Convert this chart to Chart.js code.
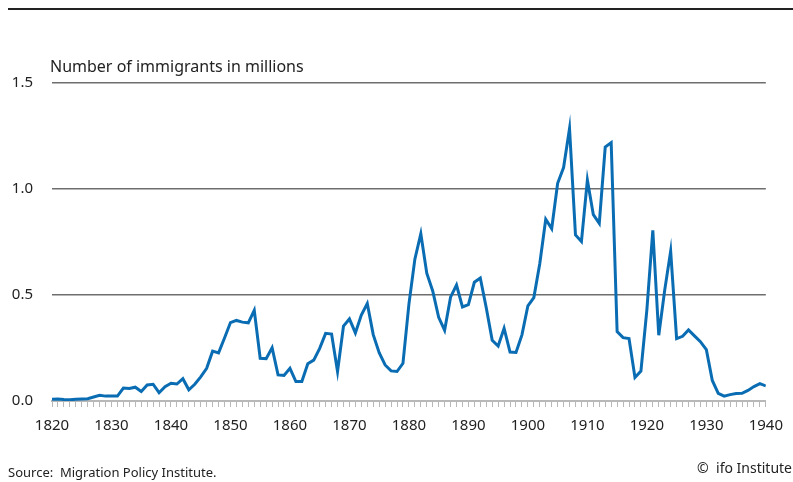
<!DOCTYPE html>
<html>
<head>
<meta charset="utf-8">
<script src="https://cdn.jsdelivr.net/npm/chart.js@4.4.1/dist/chart.umd.min.js"></script>
<style>
  html, body { margin: 0; padding: 0; background: #fff; }
  #wrap { position: relative; width: 793px; height: 482px; }
</style>
</head>
<body>
<div id="wrap"><canvas id="immigrationChart" width="793" height="482"></canvas></div>
<script>
// Immigrants to the US per year, in millions
var years = [];
for (var yr = 1820; yr <= 1940; yr++) years.push(yr);

var immigrants = [
    0.008, 0.009, 0.007, 0.006, 0.008, 0.010, 0.011, 0.019, 0.027, 0.023,
    0.023, 0.023, 0.061, 0.059, 0.065, 0.045, 0.076, 0.079, 0.039, 0.068,
    0.084, 0.080, 0.105, 0.053, 0.079, 0.114, 0.154, 0.235, 0.227, 0.297,
    0.370, 0.380, 0.372, 0.369, 0.428, 0.201, 0.200, 0.251, 0.123, 0.121,
    0.154, 0.092, 0.092, 0.176, 0.193, 0.248, 0.319, 0.316, 0.139, 0.353,
    0.387, 0.321, 0.405, 0.460, 0.313, 0.228, 0.170, 0.142, 0.139, 0.178,
    0.457, 0.669, 0.789, 0.603, 0.519, 0.395, 0.334, 0.490, 0.547, 0.444,
    0.455, 0.560, 0.580, 0.440, 0.286, 0.259, 0.343, 0.231, 0.229, 0.312,
    0.449, 0.488, 0.649, 0.857, 0.813, 1.027, 1.101, 1.285, 0.783, 0.752,
    1.042, 0.879, 0.838, 1.198, 1.219, 0.327, 0.299, 0.295, 0.111, 0.141,
    0.430, 0.805, 0.310, 0.523, 0.707, 0.294, 0.305, 0.335, 0.307, 0.280,
    0.242, 0.097, 0.036, 0.023, 0.030, 0.035, 0.036, 0.050, 0.068, 0.082,
    0.071
];

var yTicks = [0, 0.5, 1.0, 1.5];
var chartTitle = 'Number of immigrants in millions';
var sourceText = 'Source:  Migration Policy Institute.';
var creditText = '\u00a9  ifo Institute';

var fontFamily = '"Noto Sans", "Open Sans", sans-serif';

var points = years.map(function(y, i) { return { x: y, y: immigrants[i] }; });

// Texts and top rule drawn straight onto the canvas
var decorations = {
    id: 'decorations',
    afterDraw: function(chart) {
        var c = chart.ctx;
        c.save();
        c.fillStyle = '#222';
        c.fillRect(8, 8, 785, 2);
        c.textBaseline = 'alphabetic';
        c.font = '16px ' + fontFamily;
        c.textAlign = 'left';
        c.fillText(chartTitle, 50, 72);
        c.font = '13px ' + fontFamily;
        c.fillText(sourceText, 8, 477);
        c.textAlign = 'right';
        c.font = '14px ' + fontFamily;
        c.fillText(creditText, 792, 473);
        c.restore();
    }
};

var ctx = document.getElementById('immigrationChart').getContext('2d');
new Chart(ctx, {
    type: 'line',
    data: {
        datasets: [{
            label: 'Immigrants',
            data: points,
            borderColor: '#0a6db3',
            borderWidth: 3,
            pointRadius: 0,
            tension: 0,
            fill: false
        }]
    },
    options: {
        responsive: false,
        animation: false,
        layout: { padding: { left: 0, right: 25, top: 83, bottom: 0 } },
        plugins: { legend: { display: false }, tooltip: { enabled: false } },
        scales: {
            x: {
                type: 'linear',
                min: 1820,
                max: 1940,
                afterBuildTicks: function(scale) {
                    scale.ticks = years.map(function(y) { return { value: y }; });
                },
                afterFit: function(scale) { scale.height = 81; },
                border: { display: true, color: '#b8b8b8', width: 2 },
                grid: {
                    drawOnChartArea: false,
                    drawTicks: true,
                    tickLength: 6,
                    color: '#b8b8b8',
                    lineWidth: 1
                },
                ticks: {
                    autoSkip: false,
                    maxRotation: 0,
                    padding: 10,
                    color: '#222',
                    font: { family: fontFamily, size: 15 },
                    callback: function(v) { return v % 10 === 0 ? String(v) : ''; }
                }
            },
            y: {
                min: 0,
                max: 1.5,
                afterBuildTicks: function(scale) {
                    scale.ticks = yTicks.map(function(v) { return { value: v }; });
                },
                afterFit: function(scale) { scale.width = 52; },
                border: { display: false },
                grid: {
                    drawTicks: false,
                    color: function(c) { return c.tick.value === 0 ? 'rgba(0,0,0,0)' : '#6e6e6e'; },
                    lineWidth: 1.5
                },
                ticks: {
                    padding: 19,
                    color: '#222',
                    font: { family: fontFamily, size: 15 },
                    callback: function(v) { return v.toFixed(1); }
                }
            }
        }
    },
    plugins: [decorations]
});
</script>
</body>
</html>
